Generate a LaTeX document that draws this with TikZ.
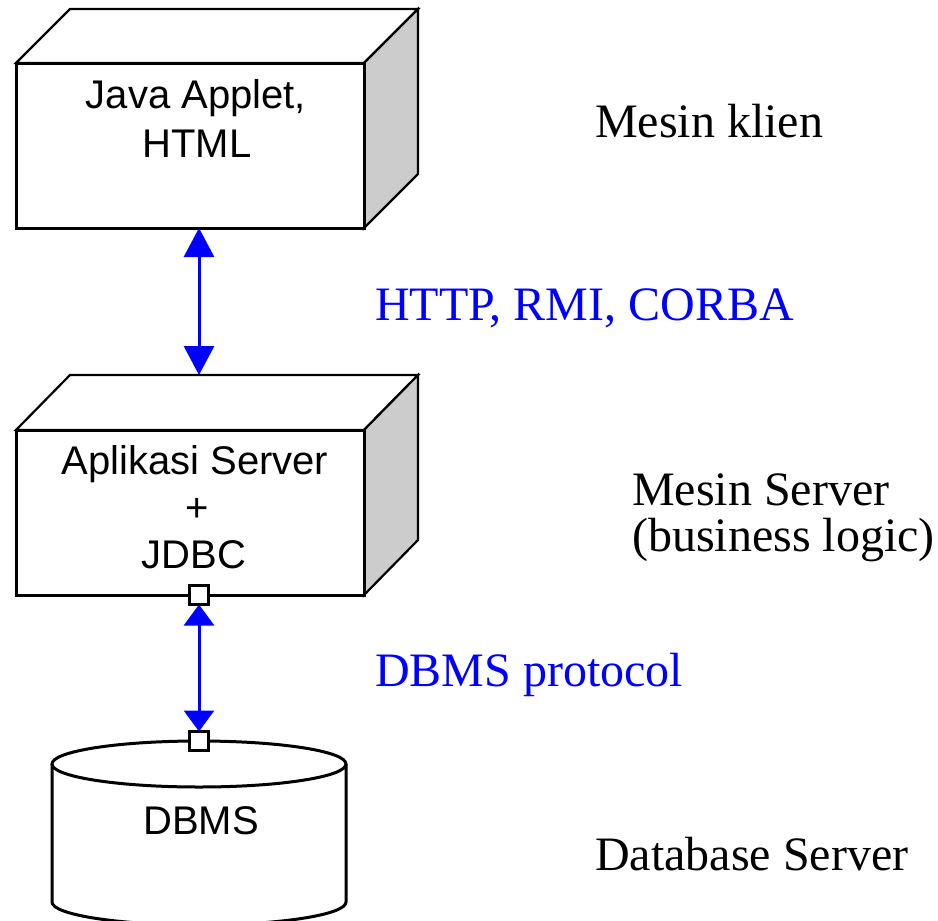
\documentclass[tikz,border=0pt]{standalone}
\usepackage{fontspec}
\setmainfont{Liberation Serif}
\newfontfamily\boxfont{Liberation Sans}
\usetikzlibrary{arrows.meta}
\definecolor{linkblue}{RGB}{0,0,255}
\definecolor{sidegray}{RGB}{204,204,204}
\begin{document}
\begin{tikzpicture}[x=1pt,y=-1pt,
  front/.style={draw=black, fill=white, line width=3pt, inner sep=0pt, outer sep=0pt,
                minimum width=348pt, minimum height=165pt, anchor=north west},
  face/.style={draw=black, line width=2.2pt, line join=miter},
  boxtext/.style={font=\boxfont\fontsize{40}{48}\selectfont, inner sep=0pt, anchor=base},
  tier/.style={font=\fontsize{48}{56}\selectfont, inner sep=0pt, anchor=base west},
  proto/.style={tier, text=linkblue},
  link/.style={draw=linkblue, line width=3pt},
  port/.style={draw=black, fill=white, line width=3pt, inner sep=0pt, outer sep=0pt,
               minimum size=19pt},
  dbline/.style={draw=black, line width=3pt}]
\useasboundingbox (0,0) rectangle (938,921);
\fill[white] (0,0) rectangle (938,921);

% client machine box
\coordinate (cnw) at (16,63);
\coordinate (cne) at (364,63);
\coordinate (cse) at (364,228);
\path[face, fill=white] (cnw) -- ++(54,-54) -- ++(348,0) -- (cne) -- cycle;
\path[face, fill=sidegray] (cne) -- ++(54,-54) -- ++(0,165) -- (cse) -- cycle;
\node[front] (client) at (cnw) {};
\node[boxtext] (clientA) at (196,108) {Java Applet,};
\node[boxtext] (clientB) at (197,157) {HTML};

% application server box
\coordinate (snw) at (16,430);
\coordinate (sne) at (364,430);
\coordinate (sse) at (364,595);
\path[face, fill=white] (snw) -- ++(54,-55) -- ++(348,0) -- (sne) -- cycle;
\path[face, fill=sidegray] (sne) -- ++(54,-55) -- ++(0,165) -- (sse) -- cycle;
\node[front] (server) at (snw) {};
\coordinate (srvtop) at (199,375);
\node[boxtext] (serverA) at (195,474) {Aplikasi Server};
\node[boxtext] (serverB) at (197,521) {+};
\node[boxtext] (serverC) at (194,568) {JDBC};

% database cylinder
\path[dbline, fill=white] (52,764) -- (52,902)
  arc[start angle=180, end angle=360, x radius=147pt, y radius=23pt] -- (346,764);
\draw[dbline] (199,764) ellipse[x radius=147pt, y radius=23pt];
\node[boxtext] (dbms) at (201,834) {DBMS};

% connection ports
\node[port] (jdbcport) at (199,595) {};
\node[port] (dbport) at (199,741) {};

% protocol links
\draw[link, {Triangle[width=30pt,length=29pt]}-{Triangle[width=30pt,length=29pt]}]
  (client.south -| srvtop) -- (srvtop);
\draw[link, {Triangle[width=30pt,length=21pt]}-{Triangle[width=30pt,length=21pt]}]
  (jdbcport.south) -- (dbport.north);

% tier labels
\node[tier] (tier1) at (595,137) {Mesin klien};
\node[proto] (proto1) at (375,320) {HTTP, RMI, CORBA};
\node[tier] (tier2) at (632,505) {Mesin Server};
\node[tier] (tier2b) at (632,551) {(business logic)};
\node[proto] (proto2) at (375,686) {DBMS protocol};
\node[tier] (tier3) at (595,870) {Database Server};
\end{tikzpicture}
\end{document}
